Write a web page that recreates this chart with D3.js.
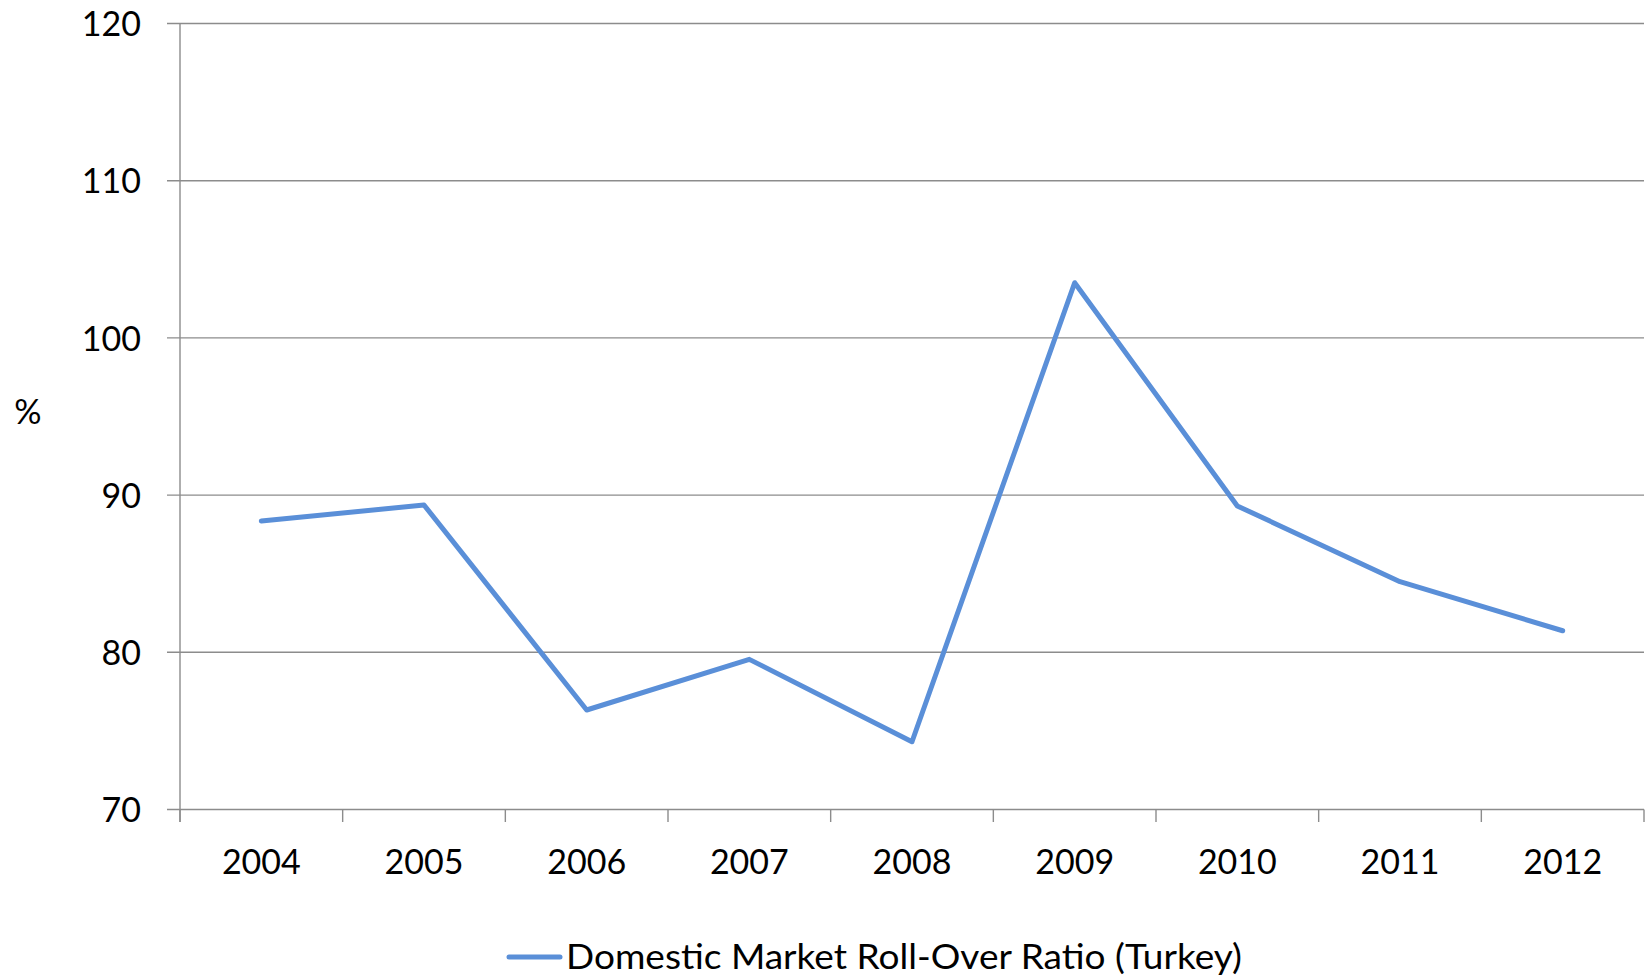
<!DOCTYPE html>
<html>
<head>
<meta charset="utf-8">
<script src="https://cdn.jsdelivr.net/npm/d3@7"></script>
<style>
  html, body { margin: 0; padding: 0; background: #fff; }
  svg { display: block; font-family: Lato, "Open Sans", sans-serif; }
</style>
</head>
<body>
<svg id="chart" width="1646" height="980"></svg>
<script>
// Domestic market roll-over ratio, Turkey (%)
const years = ["2004", "2005", "2006", "2007", "2008", "2009", "2010", "2011", "2012"];
const rollOver = [88.35, 89.37, 76.33, 79.55, 74.31, 103.51, 89.31, 84.49, 81.37];
const yTicks = [70, 80, 90, 100, 110, 120];
const seriesName = "Domestic Market Roll-Over Ratio (Turkey)";
const yTitle = "%";

const W = 1646, H = 980;
const plot = { left: 180, right: 1644, top: 23.5, bottom: 809.5 };
const gridColor = "#8c8c8c";
const lineColor = "#5a8fd8";

const svg = d3.select("#chart");

const x = d3.scaleBand().domain(years).range([plot.left, plot.right]).padding(0);
const y = d3.scaleLinear().domain([70, 120]).range([plot.bottom, plot.top]);
const cx = d => x(d) + x.bandwidth() / 2;

// horizontal gridlines with their small outer ticks
svg.append("g")
  .selectAll("line")
  .data(yTicks)
  .join("line")
  .attr("x1", plot.left - 13)
  .attr("x2", plot.right)
  .attr("y1", d => y(d))
  .attr("y2", d => y(d))
  .attr("stroke", gridColor)
  .attr("stroke-width", 1.4);

// value axis
const yAxis = svg.append("g")
  .attr("transform", `translate(${plot.left},0)`)
  .call(d3.axisLeft(y).tickValues(yTicks).tickSize(13).tickPadding(26).tickSizeOuter(0));
yAxis.select(".domain").remove();
yAxis.selectAll(".tick line").attr("stroke", "none");
yAxis.selectAll(".tick text")
  .attr("font-size", 34)
  .attr("fill", "#000")
  .attr("font-family", "Lato, 'Open Sans', sans-serif")
  .attr("dy", "0.36em");

// vertical axis line
svg.append("line")
  .attr("x1", plot.left).attr("x2", plot.left)
  .attr("y1", plot.top).attr("y2", plot.bottom + 12.5)
  .attr("stroke", gridColor).attr("stroke-width", 1.4);

// category axis: labels centred in each band
const xAxis = svg.append("g")
  .attr("transform", `translate(0,${plot.bottom})`)
  .call(d3.axisBottom(x).tickSize(0).tickPadding(0));
xAxis.select(".domain").remove();
xAxis.selectAll(".tick text")
  .attr("font-size", 34)
  .attr("fill", "#000")
  .attr("font-family", "Lato, 'Open Sans', sans-serif")
  .attr("y", 64.5)
  .attr("dy", 0);

// category boundary ticks
const bounds = years.map(d => x(d)).concat([plot.right]);
svg.append("g")
  .selectAll("line")
  .data(bounds)
  .join("line")
  .attr("x1", d => d).attr("x2", d => d)
  .attr("y1", plot.bottom).attr("y2", plot.bottom + 12.5)
  .attr("stroke", gridColor).attr("stroke-width", 1.4);

// series line
const line = d3.line()
  .x((d, i) => cx(years[i]))
  .y(d => y(d));
svg.append("path")
  .datum(rollOver)
  .attr("d", line)
  .attr("fill", "none")
  .attr("stroke", lineColor)
  .attr("stroke-width", 5)
  .attr("stroke-linejoin", "round")
  .attr("stroke-linecap", "round");

// axis title
svg.append("text")
  .attr("x", 28).attr("y", 410)
  .attr("text-anchor", "middle")
  .attr("dominant-baseline", "central")
  .attr("font-size", 34)
  .attr("fill", "#000")
  .text(yTitle);

// legend
const legend = svg.append("g");
legend.append("line")
  .attr("x1", 509).attr("x2", 560)
  .attr("y1", 957).attr("y2", 957)
  .attr("stroke", lineColor)
  .attr("stroke-width", 5)
  .attr("stroke-linecap", "round");
legend.append("text")
  .attr("x", 566).attr("y", 969)
  .attr("font-size", 35)
  .attr("fill", "#000")
  .attr("textLength", 676)
  .attr("lengthAdjust", "spacingAndGlyphs")
  .text(seriesName);
</script>
</body>
</html>
